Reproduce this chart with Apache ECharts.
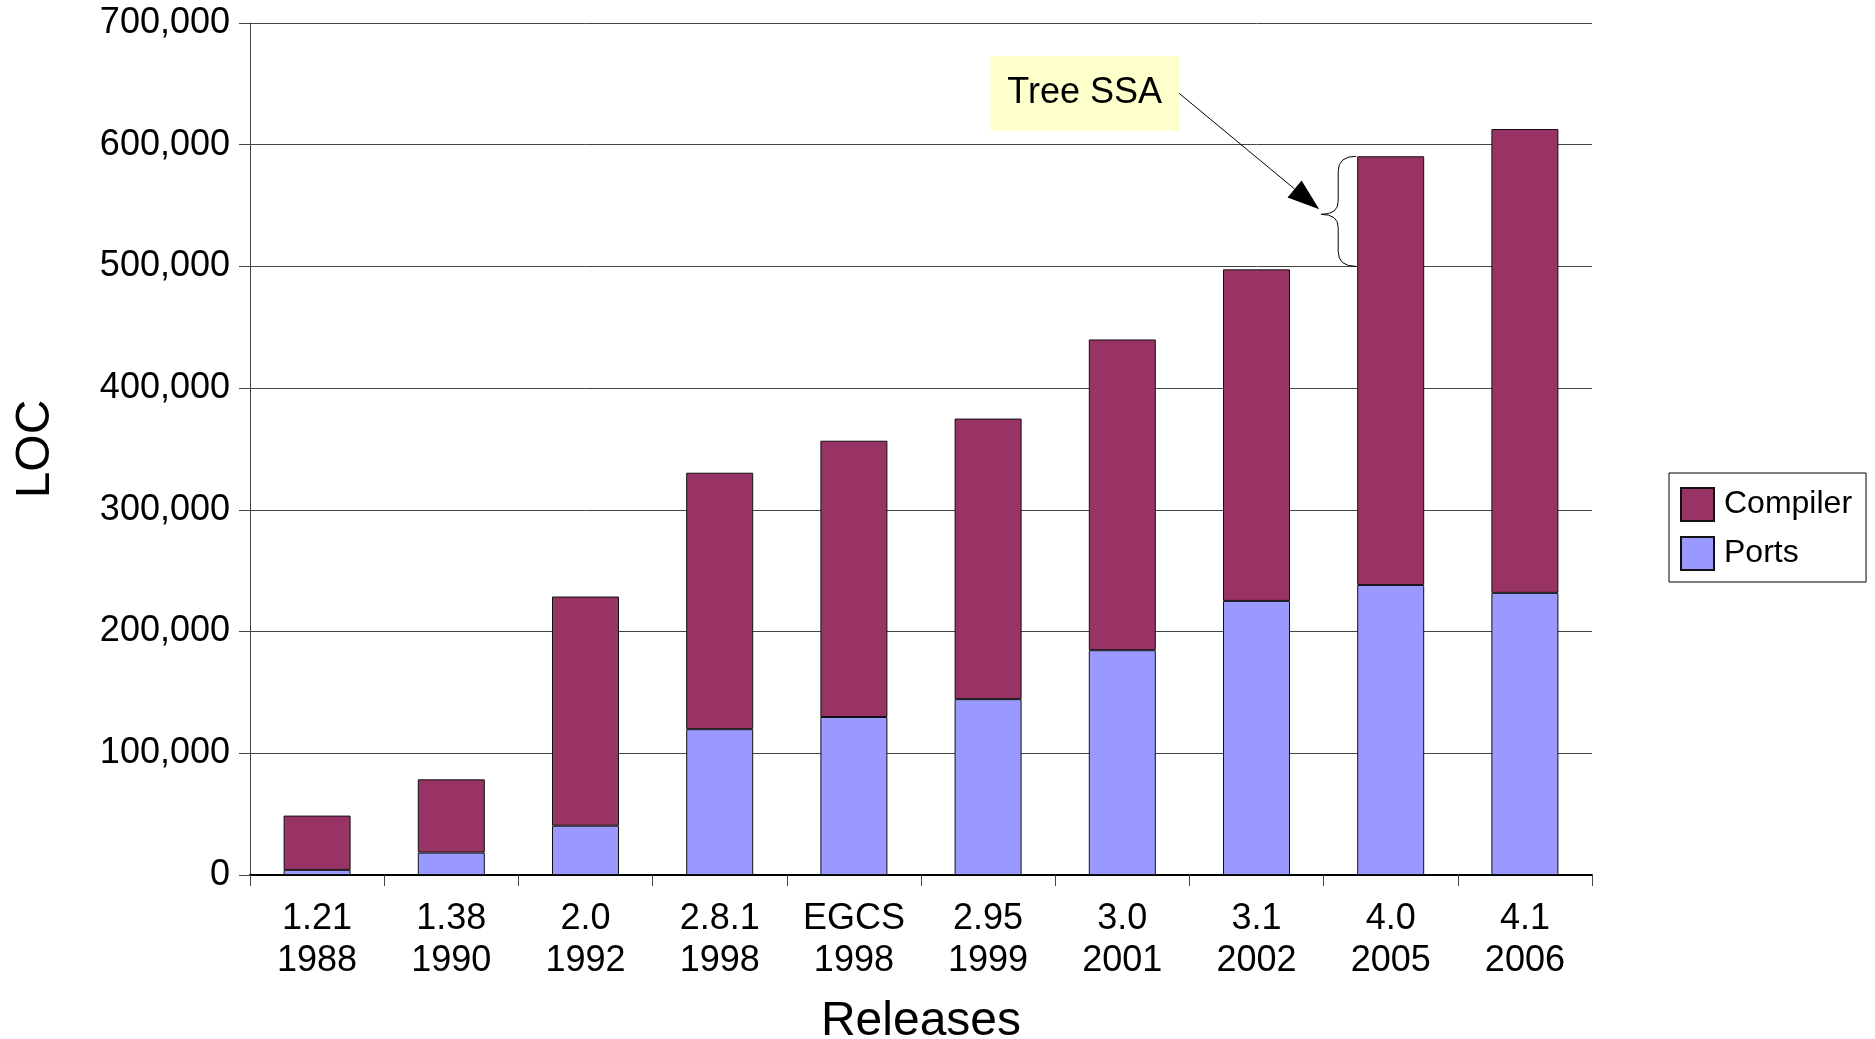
<!DOCTYPE html>
<html>
<head>
<meta charset="utf-8">
<title>GCC size by release</title>
<script src="https://cdn.jsdelivr.net/npm/echarts@6/dist/echarts.min.js"></script>
<style>
  html, body { margin: 0; padding: 0; background: #ffffff; }
  #chart { width: 1875px; height: 1039px; }
</style>
</head>
<body>
<div id="chart"></div>
<script>
// Releases and their years (two-line category labels)
const releases = ['1.21', '1.38', '2.0', '2.8.1', 'EGCS', '2.95', '3.0', '3.1', '4.0', '4.1'];
const years    = ['1988', '1990', '1992', '1998', '1998', '1999', '2001', '2002', '2005', '2006'];

// Lines of code per release
const ports    = [4200, 18400, 40500, 119800, 129800, 144500, 184700, 225200, 238300, 231800];
const compiler = [44600, 60200, 188300, 210700, 227000, 230500, 255300, 272400, 352200, 381100];

// Value axis range
const yMin = 0;
const yMax = 700000;
const yStep = 100000;

// Annotation: the jump brought by Tree SSA
const noteText = 'Tree SSA';
const noteRelease = '4.0';
const noteFrom = 500000;

const categories = releases.map((r, i) => r + '\n' + years[i]);

const FONT = '"Liberation Sans", Arial, Helvetica, sans-serif';
const BAR_W = 67;
const RULE = '#444';

const chart = echarts.init(document.getElementById('chart'), null, { renderer: 'canvas' });

const fmt = v => String(v).replace(/\B(?=(\d{3})+(?!\d))/g, ',');

chart.setOption({
  animation: false,
  backgroundColor: '#ffffff',
  textStyle: { fontFamily: FONT, color: '#000' },
  grid: { left: 250, right: 283, top: 23, bottom: 164, containLabel: false, outerBoundsMode: 'none' },
  legend: {
    orient: 'vertical',
    left: 1669,
    top: 473,
    data: ['Compiler', 'Ports'],
    icon: 'rect',
    itemWidth: 33,
    itemHeight: 33,
    itemGap: 14,
    padding: [14, 14, 11, 11],
    borderColor: '#000',
    borderWidth: 1,
    selectedMode: false,
    textStyle: { fontFamily: FONT, fontSize: 32, color: '#000', padding: [0, 0, 0, 5] }
  },
  xAxis: {
    type: 'category',
    data: categories,
    name: 'Releases',
    nameLocation: 'middle',
    nameGap: 123,
    nameTextStyle: { fontFamily: FONT, fontSize: 48, color: '#000' },
    axisLine: { show: true, lineStyle: { color: '#000', width: 2 } },
    axisTick: { show: true, length: 11, lineStyle: { color: RULE, width: 1 } },
    axisLabel: { interval: 0, fontFamily: FONT, fontSize: 36, lineHeight: 42, color: '#000', margin: 23 },
    splitLine: { show: false }
  },
  yAxis: {
    type: 'value',
    min: yMin,
    max: yMax,
    interval: yStep,
    name: 'LOC',
    nameLocation: 'middle',
    nameGap: 190,
    nameRotate: 90,
    nameTextStyle: { fontFamily: FONT, fontSize: 48, color: '#000' },
    axisLine: { show: true, lineStyle: { color: RULE, width: 1 } },
    axisTick: { show: true, length: 11, lineStyle: { color: RULE, width: 1 } },
    axisLabel: { fontFamily: FONT, fontSize: 36, color: '#000', margin: 20, formatter: fmt },
    splitLine: { show: true, lineStyle: { color: RULE, width: 1 } }
  },
  series: [
    {
      name: 'Ports',
      type: 'bar',
      stack: 'loc',
      barWidth: BAR_W,
      data: ports,
      itemStyle: { color: '#9999ff', borderColor: '#111', borderWidth: 1 }
    },
    {
      name: 'Compiler',
      type: 'bar',
      stack: 'loc',
      barWidth: BAR_W,
      data: compiler,
      itemStyle: { color: '#993366', borderColor: '#111', borderWidth: 1 }
    }
  ]
});

// Callout: note box, arrow and brace over the release where Tree SSA landed
const idx = releases.indexOf(noteRelease);
const topVal = ports[idx] + compiler[idx];
const pTop = chart.convertToPixel({ gridIndex: 0 }, [idx, topVal]);
const pFrom = chart.convertToPixel({ gridIndex: 0 }, [idx, noteFrom]);
const barLeft = pTop[0] - BAR_W / 2;

const xe = barLeft - 1;
const xm = barLeft - 19;
const xt = barLeft - 36;
const yt = pTop[1];
const yb = pFrom[1];
const ym = (yt + yb) / 2 + 3;

const ink = { stroke: '#000', lineWidth: 1, fill: null };
const curve = (x1, y1, cx, cy, x2, y2) => ({
  type: 'bezierCurve', z: 100,
  shape: { x1: x1, y1: y1, x2: x2, y2: y2, cpx1: cx, cpy1: cy },
  style: ink
});
const seg = (x1, y1, x2, y2) => ({
  type: 'line', z: 100,
  shape: { x1: x1, y1: y1, x2: x2, y2: y2 },
  style: ink
});

const brace = [
  curve(xe, yt, xm, yt, xm, yt + 15),
  seg(xm, yt + 15, xm, ym - 13),
  curve(xm, ym - 13, xm, ym, xt, ym),
  curve(xt, ym, xm, ym, xm, ym + 13),
  seg(xm, ym + 13, xm, yb - 15),
  curve(xm, yb - 15, xm, yb, xe, yb)
];

const boxW = 189, boxH = 75;
const boxRight = xt - 142;
const boxCy = ym - 121;
const boxLeft = boxRight - boxW;
const boxTop = boxCy - boxH / 2;

const tipX = xt - 2, tipY = ym - 5;
const startX = boxRight, startY = boxCy;
const dx = tipX - startX, dy = tipY - startY;
const len = Math.sqrt(dx * dx + dy * dy);
const ux = dx / len, uy = dy / len;
const headL = 32, headW = 11;
const bx = tipX - ux * headL, by = tipY - uy * headL;

chart.setOption({
  graphic: [
    {
      type: 'rect',
      z: 100,
      shape: { x: boxLeft, y: boxTop, width: boxW, height: boxH },
      style: { fill: '#ffffcc' }
    },
    {
      type: 'text',
      z: 101,
      x: boxLeft + boxW / 2,
      y: boxCy,
      style: {
        text: noteText,
        fontFamily: FONT,
        fontSize: 36,
        fill: '#000',
        align: 'center',
        verticalAlign: 'middle'
      }
    },
    seg(startX, startY, bx, by),
    {
      type: 'polygon',
      z: 100,
      shape: {
        points: [
          [tipX, tipY],
          [bx - uy * headW, by + ux * headW],
          [bx + uy * headW, by - ux * headW]
        ]
      },
      style: { fill: '#000' }
    }
  ].concat(brace)
});
</script>
</body>
</html>
